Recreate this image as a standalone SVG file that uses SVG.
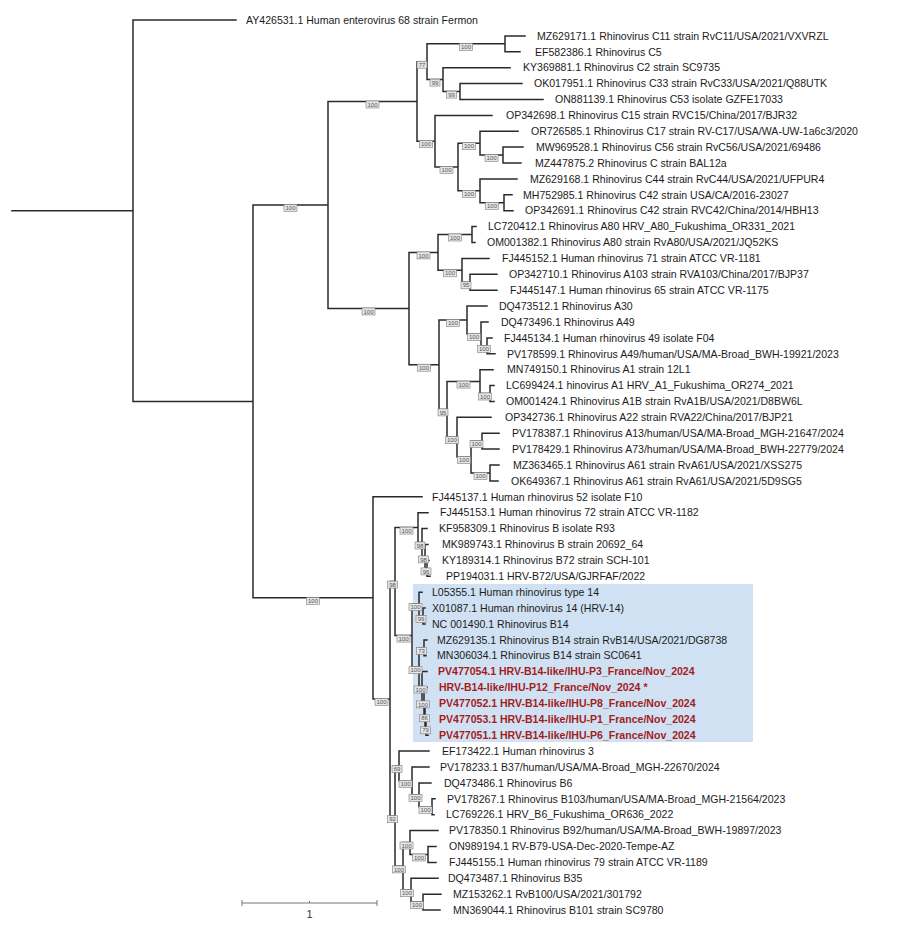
<svg xmlns="http://www.w3.org/2000/svg" width="900" height="925" viewBox="0 0 900 925">
<style>
.br{fill:none;stroke:#2a2a2a;stroke-width:1.5;stroke-linecap:square}
.lf{font-family:"Liberation Sans",Arial,sans-serif;font-size:10.55px;fill:#1c1c1c}
.rd{fill:#a41c1c;font-weight:bold}
.bx{fill:#e6e6e6;stroke:#7d7d7d;stroke-width:0.6}
.bt{font-family:"Liberation Sans",Arial,sans-serif;font-size:6px;fill:#555;text-anchor:middle}
.sc{fill:none;stroke:#777;stroke-width:1}
</style>
<rect width="900" height="925" fill="#fff"/>
<rect id="highlight" x="413" y="584" width="340" height="158" fill="#cfe1f2"/>
<g id="connectors">
<path class="br" d="M12 210.7H133 M133 20V401.4 M133 20H236 M133 401.4H253 M253 205V597.85
M253 205H328 M328 101.45V308.55
M328 101.45H417 M417 61.7V141.2
M417 61.7H427 M427 43.85V79.6
M427 43.85H505 M505 35.9V51.8 M505 35.9H525 M505 51.8H520
M427 79.6H443 M443 67.7V91.55 M443 67.7H510
M443 91.55H460 M460 83.6V99.5 M460 83.6H522 M460 99.5H543
M417 141.2H435 M435 115.4V167 M435 115.4H492
M435 167H458 M458 143.2V190.8
M458 143.2H480 M480 131.3V155.05 M480 131.3H518
M480 155.05H503 M503 147.1V163 M503 147.1H523 M503 163H521
M458 190.8H480 M480 178.9V202.75 M480 178.9H517
M480 202.75H504 M504 194.8V210.7 M504 194.8H512 M504 210.7H513
M328 308.55H409 M409 252.4V364.7
M409 252.4H438 M438 234.55V270.3
M438 234.55H472 M472 226.6V242.5 M472 226.6H476 M472 242.5H475
M438 270.3H462 M462 258.4V282.25 M462 258.4H489
M462 282.25H470 M470 274.3V290.2 M470 274.3H497 M470 290.2H497
M409 364.7H439 M439 320V409.4
M439 320H467 M467 306.1V333.9 M467 306.1H487
M467 333.9H481 M481 322V345.85 M481 322H488
M481 345.85H487 M487 337.9V353.8 M487 337.9H492 M487 353.8H495
M439 409.4H447 M447 381.6V437.2
M447 381.6H480 M480 369.7V393.5 M480 369.7H493
M480 393.5H490 M490 385.6V401.4 M490 385.6H494 M490 401.4H494
M447 437.2H457 M457 417.3V457.05 M457 417.3H491
M457 457.05H471 M471 441.15V472.95
M471 441.15H482 M482 433.2V449.1 M482 433.2H499 M482 449.1H499
M471 472.95H490 M490 465V480.9 M490 465H499 M490 480.9H498
M253 597.85H373 M373 496.8V698.9 M373 496.8H422
M373 698.9H390 M390 581.6V816.2
M390 581.6H395 M395 527.6V635.6
M395 527.6H418 M418 512.7V542.5 M418 512.7H428
M418 542.5H422 M422 528.6V556.4 M422 528.6H427
M422 556.4H425 M425 544.5V568.4 M425 544.5H428
M425 568.4H427 M427 560.4V576.3 M427 560.4H429 M427 576.3H430
M395 635.6H412 M412 604V667.2
M412 604H419 M419 592.2V616 M419 592.2H422
M419 616H423 M423 608.1V624 M423 608.1H425 M423 624H425
M412 667.2H419 M419 647.8V686.5
M419 647.8H424 M424 639.9V655.7 M424 639.9H427 M424 655.7H426
M419 686.5H422 M422 671.6V701.4 M422 671.6H427
M422 701.4H424 M424 687.5V715.3 M424 687.5H427
M424 715.3H425 M425 703.4V727.3 M425 703.4H427
M425 727.3H426 M426 719.3V735.2 M426 719.3H428 M426 735.2H428
M390 816.2H395 M395 766V866.35
M395 766H399 M399 751.1V780.9 M399 751.1H429
M399 780.9H412 M412 767V794.8 M412 767H429
M412 794.8H419 M419 782.9V806.75 M419 782.9H431
M419 806.75H432 M432 798.8V814.7 M432 798.8H435 M432 814.7H434
M395 866.35H403 M403 842.5V890.2
M403 842.5H410 M410 830.6V854.45 M410 830.6H438
M410 854.45H428 M428 846.5V862.4 M428 846.5H436 M428 862.4H436
M403 890.2H411 M411 878.3V902.1 M411 878.3H438
M411 902.1H423 M423 894.2V910 M423 894.2H441 M423 910H440"/>
</g>
<g id="support">
<g id="n-CA" transform="translate(290.5 208)"><rect class="bx" x="-6.5" y="-3.5" width="13" height="7"/><text class="bt" y="2.1">100</text></g>
<g id="n-Croot" transform="translate(372.5 104.5)"><rect class="bx" x="-6.5" y="-3.5" width="13" height="7"/><text class="bt" y="2.1">100</text></g>
<g id="n-77" transform="translate(422 64.7)"><rect class="bx" x="-5" y="-3.5" width="10" height="7"/><text class="bt" y="2.1">77</text></g>
<g id="n-C11" transform="translate(466 46.9)"><rect class="bx" x="-6.5" y="-3.5" width="13" height="7"/><text class="bt" y="2.1">100</text></g>
<g id="n-99a" transform="translate(435 82.6)"><rect class="bx" x="-5" y="-3.5" width="10" height="7"/><text class="bt" y="2.1">99</text></g>
<g id="n-99b" transform="translate(451.5 94.6)"><rect class="bx" x="-5" y="-3.5" width="10" height="7"/><text class="bt" y="2.1">99</text></g>
<g id="n-C2" transform="translate(426 144.2)"><rect class="bx" x="-6.5" y="-3.5" width="13" height="7"/><text class="bt" y="2.1">100</text></g>
<g id="n-AB" transform="translate(446.5 170)"><rect class="bx" x="-6.5" y="-3.5" width="13" height="7"/><text class="bt" y="2.1">100</text></g>
<g id="n-C17" transform="translate(469 146.2)"><rect class="bx" x="-6.5" y="-3.5" width="13" height="7"/><text class="bt" y="2.1">100</text></g>
<g id="n-C56" transform="translate(491.5 158)"><rect class="bx" x="-6.5" y="-3.5" width="13" height="7"/><text class="bt" y="2.1">100</text></g>
<g id="n-C44" transform="translate(469 193.8)"><rect class="bx" x="-6.5" y="-3.5" width="13" height="7"/><text class="bt" y="2.1">100</text></g>
<g id="n-C42" transform="translate(492 205.8)"><rect class="bx" x="-6.5" y="-3.5" width="13" height="7"/><text class="bt" y="2.1">100</text></g>
<g id="n-Aroot" transform="translate(368.5 311.5)"><rect class="bx" x="-6.5" y="-3.5" width="13" height="7"/><text class="bt" y="2.1">100</text></g>
<g id="n-Aup" transform="translate(423.5 255.4)"><rect class="bx" x="-6.5" y="-3.5" width="13" height="7"/><text class="bt" y="2.1">100</text></g>
<g id="n-A80" transform="translate(455 237.5)"><rect class="bx" x="-6.5" y="-3.5" width="13" height="7"/><text class="bt" y="2.1">100</text></g>
<g id="n-A71" transform="translate(450 273.3)"><rect class="bx" x="-6.5" y="-3.5" width="13" height="7"/><text class="bt" y="2.1">100</text></g>
<g id="n-95a" transform="translate(466 285.3)"><rect class="bx" x="-5" y="-3.5" width="10" height="7"/><text class="bt" y="2.1">95</text></g>
<g id="n-Alow" transform="translate(424 367.7)"><rect class="bx" x="-6.5" y="-3.5" width="13" height="7"/><text class="bt" y="2.1">100</text></g>
<g id="n-A30" transform="translate(453 323)"><rect class="bx" x="-6.5" y="-3.5" width="13" height="7"/><text class="bt" y="2.1">100</text></g>
<g id="n-A49" transform="translate(474 336.9)"><rect class="bx" x="-6.5" y="-3.5" width="13" height="7"/><text class="bt" y="2.1">100</text></g>
<g id="n-A49b" transform="translate(484 348.9)"><rect class="bx" x="-6.5" y="-3.5" width="13" height="7"/><text class="bt" y="2.1">100</text></g>
<g id="n-95b" transform="translate(443 412.4)"><rect class="bx" x="-5" y="-3.5" width="10" height="7"/><text class="bt" y="2.1">95</text></g>
<g id="n-A1" transform="translate(463.5 384.6)"><rect class="bx" x="-6.5" y="-3.5" width="13" height="7"/><text class="bt" y="2.1">100</text></g>
<g id="n-A1b" transform="translate(485 396.5)"><rect class="bx" x="-6.5" y="-3.5" width="13" height="7"/><text class="bt" y="2.1">100</text></g>
<g id="n-A22" transform="translate(452 440.2)"><rect class="bx" x="-6.5" y="-3.5" width="13" height="7"/><text class="bt" y="2.1">100</text></g>
<g id="n-A13" transform="translate(464 460)"><rect class="bx" x="-6.5" y="-3.5" width="13" height="7"/><text class="bt" y="2.1">100</text></g>
<g id="n-A13a" transform="translate(476.5 444.2)"><rect class="bx" x="-6.5" y="-3.5" width="13" height="7"/><text class="bt" y="2.1">100</text></g>
<g id="n-A61" transform="translate(480.5 476)"><rect class="bx" x="-6.5" y="-3.5" width="13" height="7"/><text class="bt" y="2.1">100</text></g>
<g id="n-Broot" transform="translate(313 601)"><rect class="bx" x="-6.5" y="-3.5" width="13" height="7"/><text class="bt" y="2.1">100</text></g>
<g id="n-Bmain" transform="translate(381.5 701.9)"><rect class="bx" x="-6.5" y="-3.5" width="13" height="7"/><text class="bt" y="2.1">100</text></g>
<g id="n-98" transform="translate(392.5 584.6)"><rect class="bx" x="-5" y="-3.5" width="10" height="7"/><text class="bt" y="2.1">98</text></g>
<g id="n-B72" transform="translate(406.5 530.6)"><rect class="bx" x="-6.5" y="-3.5" width="13" height="7"/><text class="bt" y="2.1">100</text></g>
<g id="n-98a" transform="translate(420 545.5)"><rect class="bx" x="-5" y="-3.5" width="10" height="7"/><text class="bt" y="2.1">98</text></g>
<g id="n-98b" transform="translate(423.5 559.4)"><rect class="bx" x="-5" y="-3.5" width="10" height="7"/><text class="bt" y="2.1">98</text></g>
<g id="n-96" transform="translate(426 571.4)"><rect class="bx" x="-5" y="-3.5" width="10" height="7"/><text class="bt" y="2.1">96</text></g>
<g id="n-B14" transform="translate(403.5 638.6)"><rect class="bx" x="-6.5" y="-3.5" width="13" height="7"/><text class="bt" y="2.1">100</text></g>
<g id="n-L05" transform="translate(415.5 607)"><rect class="bx" x="-6.5" y="-3.5" width="13" height="7"/><text class="bt" y="2.1">100</text></g>
<g id="n-99c" transform="translate(421 619)"><rect class="bx" x="-5" y="-3.5" width="10" height="7"/><text class="bt" y="2.1">99</text></g>
<g id="n-B14b" transform="translate(415.5 670.2)"><rect class="bx" x="-6.5" y="-3.5" width="13" height="7"/><text class="bt" y="2.1">100</text></g>
<g id="n-73" transform="translate(421.5 650.8)"><rect class="bx" x="-5" y="-3.5" width="10" height="7"/><text class="bt" y="2.1">73</text></g>
<g id="n-P1" transform="translate(420.5 689.5)"><rect class="bx" x="-6.5" y="-3.5" width="13" height="7"/><text class="bt" y="2.1">100</text></g>
<g id="n-P2" transform="translate(423 704.4)"><rect class="bx" x="-6.5" y="-3.5" width="13" height="7"/><text class="bt" y="2.1">100</text></g>
<g id="n-86" transform="translate(424.5 718.3)"><rect class="bx" x="-5" y="-3.5" width="10" height="7"/><text class="bt" y="2.1">86</text></g>
<g id="n-79" transform="translate(425.5 730.3)"><rect class="bx" x="-5" y="-3.5" width="10" height="7"/><text class="bt" y="2.1">79</text></g>
<g id="n-92" transform="translate(392.5 819.2)"><rect class="bx" x="-5" y="-3.5" width="10" height="7"/><text class="bt" y="2.1">92</text></g>
<g id="n-69" transform="translate(397 769)"><rect class="bx" x="-5" y="-3.5" width="10" height="7"/><text class="bt" y="2.1">69</text></g>
<g id="n-B37" transform="translate(405.5 783.9)"><rect class="bx" x="-6.5" y="-3.5" width="13" height="7"/><text class="bt" y="2.1">100</text></g>
<g id="n-B6" transform="translate(415.5 797.8)"><rect class="bx" x="-6.5" y="-3.5" width="13" height="7"/><text class="bt" y="2.1">100</text></g>
<g id="n-B103" transform="translate(425.5 809.8)"><rect class="bx" x="-6.5" y="-3.5" width="13" height="7"/><text class="bt" y="2.1">100</text></g>
<g id="n-BL" transform="translate(399 869.4)"><rect class="bx" x="-6.5" y="-3.5" width="13" height="7"/><text class="bt" y="2.1">100</text></g>
<g id="n-B92" transform="translate(406.5 845.5)"><rect class="bx" x="-6.5" y="-3.5" width="13" height="7"/><text class="bt" y="2.1">100</text></g>
<g id="n-B79" transform="translate(419 857.5)"><rect class="bx" x="-6.5" y="-3.5" width="13" height="7"/><text class="bt" y="2.1">100</text></g>
<g id="n-B35" transform="translate(407 893.2)"><rect class="bx" x="-6.5" y="-3.5" width="13" height="7"/><text class="bt" y="2.1">100</text></g>
<g id="n-B100" transform="translate(417 905.1)"><rect class="bx" x="-6.5" y="-3.5" width="13" height="7"/><text class="bt" y="2.1">100</text></g>
</g>
<g id="leaves" class="lf">
<g id="leaf-01"><text x="246" y="23.7">AY426531.1 Human enterovirus 68 strain Fermon</text></g>
<g id="leaf-02"><text x="537" y="39.6">MZ629171.1 Rhinovirus C11 strain RvC11/USA/2021/VXVRZL</text></g>
<g id="leaf-03"><text x="535" y="55.5">EF582386.1 Rhinovirus C5</text></g>
<g id="leaf-04"><text x="523" y="71.4">KY369881.1 Rhinovirus C2 strain SC9735</text></g>
<g id="leaf-05"><text x="534" y="87.3">OK017951.1 Rhinovirus C33 strain RvC33/USA/2021/Q88UTK</text></g>
<g id="leaf-06"><text x="555" y="103.2">ON881139.1 Rhinovirus C53 isolate GZFE17033</text></g>
<g id="leaf-07"><text x="506" y="119.1">OP342698.1 Rhinovirus C15 strain RVC15/China/2017/BJR32</text></g>
<g id="leaf-08"><text x="531" y="135">OR726585.1 Rhinovirus C17 strain RV-C17/USA/WA-UW-1a6c3/2020</text></g>
<g id="leaf-09"><text x="536" y="150.8">MW969528.1 Rhinovirus C56 strain RvC56/USA/2021/69486</text></g>
<g id="leaf-10"><text x="535" y="166.7">MZ447875.2 Rhinovirus C strain BAL12a</text></g>
<g id="leaf-11"><text x="530" y="182.6">MZ629168.1 Rhinovirus C44 strain RvC44/USA/2021/UFPUR4</text></g>
<g id="leaf-12"><text x="523" y="198.5">MH752985.1 Rhinovirus C42 strain USA/CA/2016-23027</text></g>
<g id="leaf-13"><text x="525" y="214.4">OP342691.1 Rhinovirus C42 strain RVC42/China/2014/HBH13</text></g>
<g id="leaf-14"><text x="488" y="230.3">LC720412.1 Rhinovirus A80 HRV_A80_Fukushima_OR331_2021</text></g>
<g id="leaf-15"><text x="487" y="246.2">OM001382.1 Rhinovirus A80 strain RvA80/USA/2021/JQ52KS</text></g>
<g id="leaf-16"><text x="502" y="262.1">FJ445152.1 Human rhinovirus 71 strain ATCC VR-1181</text></g>
<g id="leaf-17"><text x="509" y="278">OP342710.1 Rhinovirus A103 strain RVA103/China/2017/BJP37</text></g>
<g id="leaf-18"><text x="510" y="293.9">FJ445147.1 Human rhinovirus 65 strain ATCC VR-1175</text></g>
<g id="leaf-19"><text x="499" y="309.8">DQ473512.1 Rhinovirus A30</text></g>
<g id="leaf-20"><text x="501" y="325.7">DQ473496.1 Rhinovirus A49</text></g>
<g id="leaf-21"><text x="504" y="341.6">FJ445134.1 Human rhinovirus 49 isolate F04</text></g>
<g id="leaf-22"><text x="507" y="357.5">PV178599.1 Rhinovirus A49/human/USA/MA-Broad_BWH-19921/2023</text></g>
<g id="leaf-23"><text x="507" y="373.4">MN749150.1 Rhinovirus A1 strain 12L1</text></g>
<g id="leaf-24"><text x="506" y="389.3">LC699424.1 hinovirus A1 HRV_A1_Fukushima_OR274_2021</text></g>
<g id="leaf-25"><text x="506" y="405.1">OM001424.1 Rhinovirus A1B strain RvA1B/USA/2021/D8BW6L</text></g>
<g id="leaf-26"><text x="505" y="421">OP342736.1 Rhinovirus A22 strain RVA22/China/2017/BJP21</text></g>
<g id="leaf-27"><text x="512" y="436.9">PV178387.1 Rhinovirus A13/human/USA/MA-Broad_MGH-21647/2024</text></g>
<g id="leaf-28"><text x="512" y="452.8">PV178429.1 Rhinovirus A73/human/USA/MA-Broad_BWH-22779/2024</text></g>
<g id="leaf-29"><text x="513" y="468.7">MZ363465.1 Rhinovirus A61 strain RvA61/USA/2021/XSS275</text></g>
<g id="leaf-30"><text x="511" y="484.6">OK649367.1 Rhinovirus A61 strain RvA61/USA/2021/5D9SG5</text></g>
<g id="leaf-31"><text x="432" y="500.5">FJ445137.1 Human rhinovirus 52 isolate F10</text></g>
<g id="leaf-32"><text x="440" y="516.4">FJ445153.1 Human rhinovirus 72 strain ATCC VR-1182</text></g>
<g id="leaf-33"><text x="439" y="532.3">KF958309.1 Rhinovirus B isolate R93</text></g>
<g id="leaf-34"><text x="442" y="548.2">MK989743.1 Rhinovirus B strain 20692_64</text></g>
<g id="leaf-35"><text x="442" y="564.1">KY189314.1 Rhinovirus B72 strain SCH-101</text></g>
<g id="leaf-36"><text x="446" y="580">PP194031.1 HRV-B72/USA/GJRFAF/2022</text></g>
<g id="leaf-37"><text x="432" y="595.9">L05355.1 Human rhinovirus type 14</text></g>
<g id="leaf-38"><text x="432" y="611.8">X01087.1 Human rhinovirus 14 (HRV-14)</text></g>
<g id="leaf-39"><text x="432" y="627.7">NC 001490.1 Rhinovirus B14</text></g>
<g id="leaf-40"><text x="437" y="643.6">MZ629135.1 Rhinovirus B14 strain RvB14/USA/2021/DG8738</text></g>
<g id="leaf-41"><text x="437" y="659.4">MN306034.1 Rhinovirus B14 strain SC0641</text></g>
<g id="leaf-42"><text class="rd" x="438" y="675.3">PV477054.1 HRV-B14-like/IHU-P3_France/Nov_2024</text></g>
<g id="leaf-43"><text class="rd" x="439" y="691.2">HRV-B14-like/IHU-P12_France/Nov_2024 *</text></g>
<g id="leaf-44"><text class="rd" x="439" y="707.1">PV477052.1 HRV-B14-like/IHU-P8_France/Nov_2024</text></g>
<g id="leaf-45"><text class="rd" x="439" y="723">PV477053.1 HRV-B14-like/IHU-P1_France/Nov_2024</text></g>
<g id="leaf-46"><text class="rd" x="439" y="738.9">PV477051.1 HRV-B14-like/IHU-P6_France/Nov_2024</text></g>
<g id="leaf-47"><text x="442" y="754.8">EF173422.1 Human rhinovirus 3</text></g>
<g id="leaf-48"><text x="440" y="770.7">PV178233.1 B37/human/USA/MA-Broad_MGH-22670/2024</text></g>
<g id="leaf-49"><text x="444" y="786.6">DQ473486.1 Rhinovirus B6</text></g>
<g id="leaf-50"><text x="447" y="802.5">PV178267.1 Rhinovirus B103/human/USA/MA-Broad_MGH-21564/2023</text></g>
<g id="leaf-51"><text x="446" y="818.4">LC769226.1 HRV_B6_Fukushima_OR636_2022</text></g>
<g id="leaf-52"><text x="449" y="834.3">PV178350.1 Rhinovirus B92/human/USA/MA-Broad_BWH-19897/2023</text></g>
<g id="leaf-53"><text x="449" y="850.2">ON989194.1 RV-B79-USA-Dec-2020-Tempe-AZ</text></g>
<g id="leaf-54"><text x="449" y="866.1">FJ445155.1 Human rhinovirus 79 strain ATCC VR-1189</text></g>
<g id="leaf-55"><text x="448" y="882">DQ473487.1 Rhinovirus B35</text></g>
<g id="leaf-56"><text x="453" y="897.9">MZ153262.1 RvB100/USA/2021/301792</text></g>
<g id="leaf-57"><text x="453" y="913.7">MN369044.1 Rhinovirus B101 strain SC9780</text></g>
</g>
<g id="scale">
<path class="sc" d="M242 903H377 M242 900V906 M377 900V906 M309.5 901V903"/>
<text x="309.5" y="918" font-family="Liberation Sans, Arial, sans-serif" font-size="11" fill="#333" text-anchor="middle">1</text>
</g>
</svg>
